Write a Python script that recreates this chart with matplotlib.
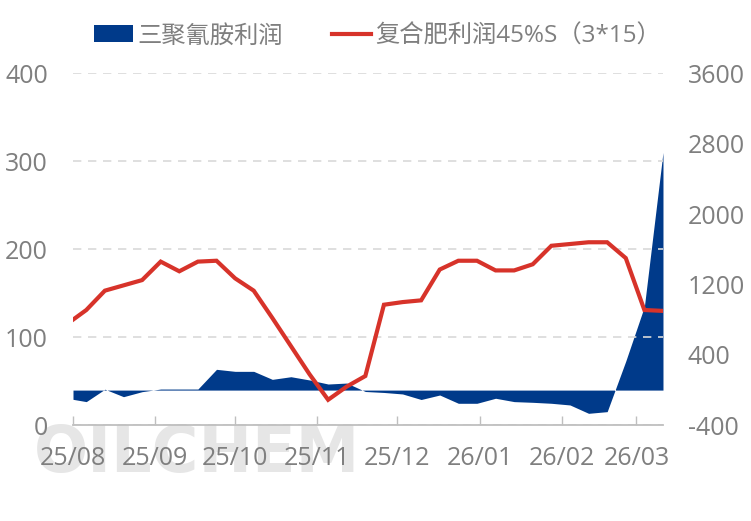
import matplotlib
matplotlib.use("Agg")
import matplotlib.pyplot as plt
import matplotlib.dates as mdates
import pandas as pd

plt.rcParams['font.family'] = ['Open Sans', 'Noto Sans CJK SC', 'DejaVu Sans']
plt.rcParams['axes.unicode_minus'] = False

# weekly data (first point is the 1st of August)
dates = ['2025-08-01', '2025-08-06', '2025-08-13', '2025-08-20', '2025-08-27',
         '2025-09-03', '2025-09-10', '2025-09-17', '2025-09-24', '2025-10-01',
         '2025-10-08', '2025-10-15', '2025-10-22', '2025-10-29', '2025-11-05',
         '2025-11-12', '2025-11-19', '2025-11-26', '2025-12-03', '2025-12-10',
         '2025-12-17', '2025-12-24', '2025-12-31', '2026-01-07', '2026-01-14',
         '2026-01-21', '2026-01-28', '2026-02-04', '2026-02-11', '2026-02-18',
         '2026-02-25', '2026-03-04', '2026-03-11']

# 三聚氰胺利润 (right axis)
melamine = [-105, -131, 10, -75, -18, 12, 12, 12, 236, 213,
            213, 122, 152, 115, 69, 80, -16, -27, -44, -107,
            -56, -150, -150, -93, -131, -139, -150, -169, -264, -245,
            330, 950, 2700]

# 复合肥利润45%S(3*15) (left axis)
fertilizer = [120, 131, 153, 159, 165, 186, 175, 186, 187, 167,
              153, 122, 90, 58, 29, 44, 56, 137, 140, 142,
              177, 187, 187, 176, 176, 183, 204, 206, 208, 208,
              190, 131, 130]

x = pd.to_datetime(dates)
blue = '#003A8A'
red = '#D7332A'
grey = '#7F7F7F'

fig = plt.figure(figsize=(7.51, 5.21), dpi=100)
ax = fig.add_axes([0.0972, 0.1837, 0.7856, 0.6756])
ax2 = ax.twinx()

# red line axis drawn above the area axis
ax.set_zorder(2)
ax2.set_zorder(1)
ax.patch.set_visible(False)

ax2.fill_between(x, melamine, 0, color=blue, linewidth=0, label='三聚氰胺利润')
ax.plot(x, fertilizer, color=red, linewidth=3, label='复合肥利润45%S（3*15）',
        solid_joinstyle='miter')

ax.set_ylim(0, 400)
ax.set_yticks([0, 100, 200, 300, 400])
ax2.set_ylim(-400, 3600)
ax2.set_yticks([-400, 400, 1200, 2000, 2800, 3600])
ax.set_xlim(pd.Timestamp('2025-08-01'), pd.Timestamp('2026-03-11'))
ax.xaxis.set_major_locator(mdates.MonthLocator())
ax.xaxis.set_major_formatter(mdates.DateFormatter('%y/%m'))

ax.yaxis.grid(True, color='#D9D9D9', linestyle=(0, (5, 4)), linewidth=1.2)
for a in (ax, ax2):
    for s in ('top', 'left', 'right', 'bottom'):
        a.spines[s].set_visible(False)
ax.spines['bottom'].set_visible(True)
ax.spines['bottom'].set_color('#BFBFBF')
ax.spines['bottom'].set_linewidth(1.3)

ax.tick_params(axis='x', direction='in', length=6.5, width=1, color='#BFBFBF',
               labelsize=18, labelcolor=grey, pad=15)
ax.tick_params(axis='y', length=0, labelsize=18, labelcolor=grey, pad=18)
ax2.tick_params(axis='y', length=0, labelsize=18, labelcolor=grey, pad=18)

# watermark
fig.text(0.045, 0.095, 'OILCHEM', fontsize=46, fontweight='bold', color='#E6E6E6',
         family='DejaVu Sans', zorder=0)

h1, l1 = ax2.get_legend_handles_labels()
h2, l2 = ax.get_legend_handles_labels()
fig.legend(h1 + h2, l1 + l2, loc='center', bbox_to_anchor=(0.503, 0.93), ncol=2,
           frameon=False, fontsize=17.5, labelcolor=grey, handlelength=1.6,
           handletextpad=0.2, columnspacing=2.0)

fig.savefig('out.png', dpi=100)
